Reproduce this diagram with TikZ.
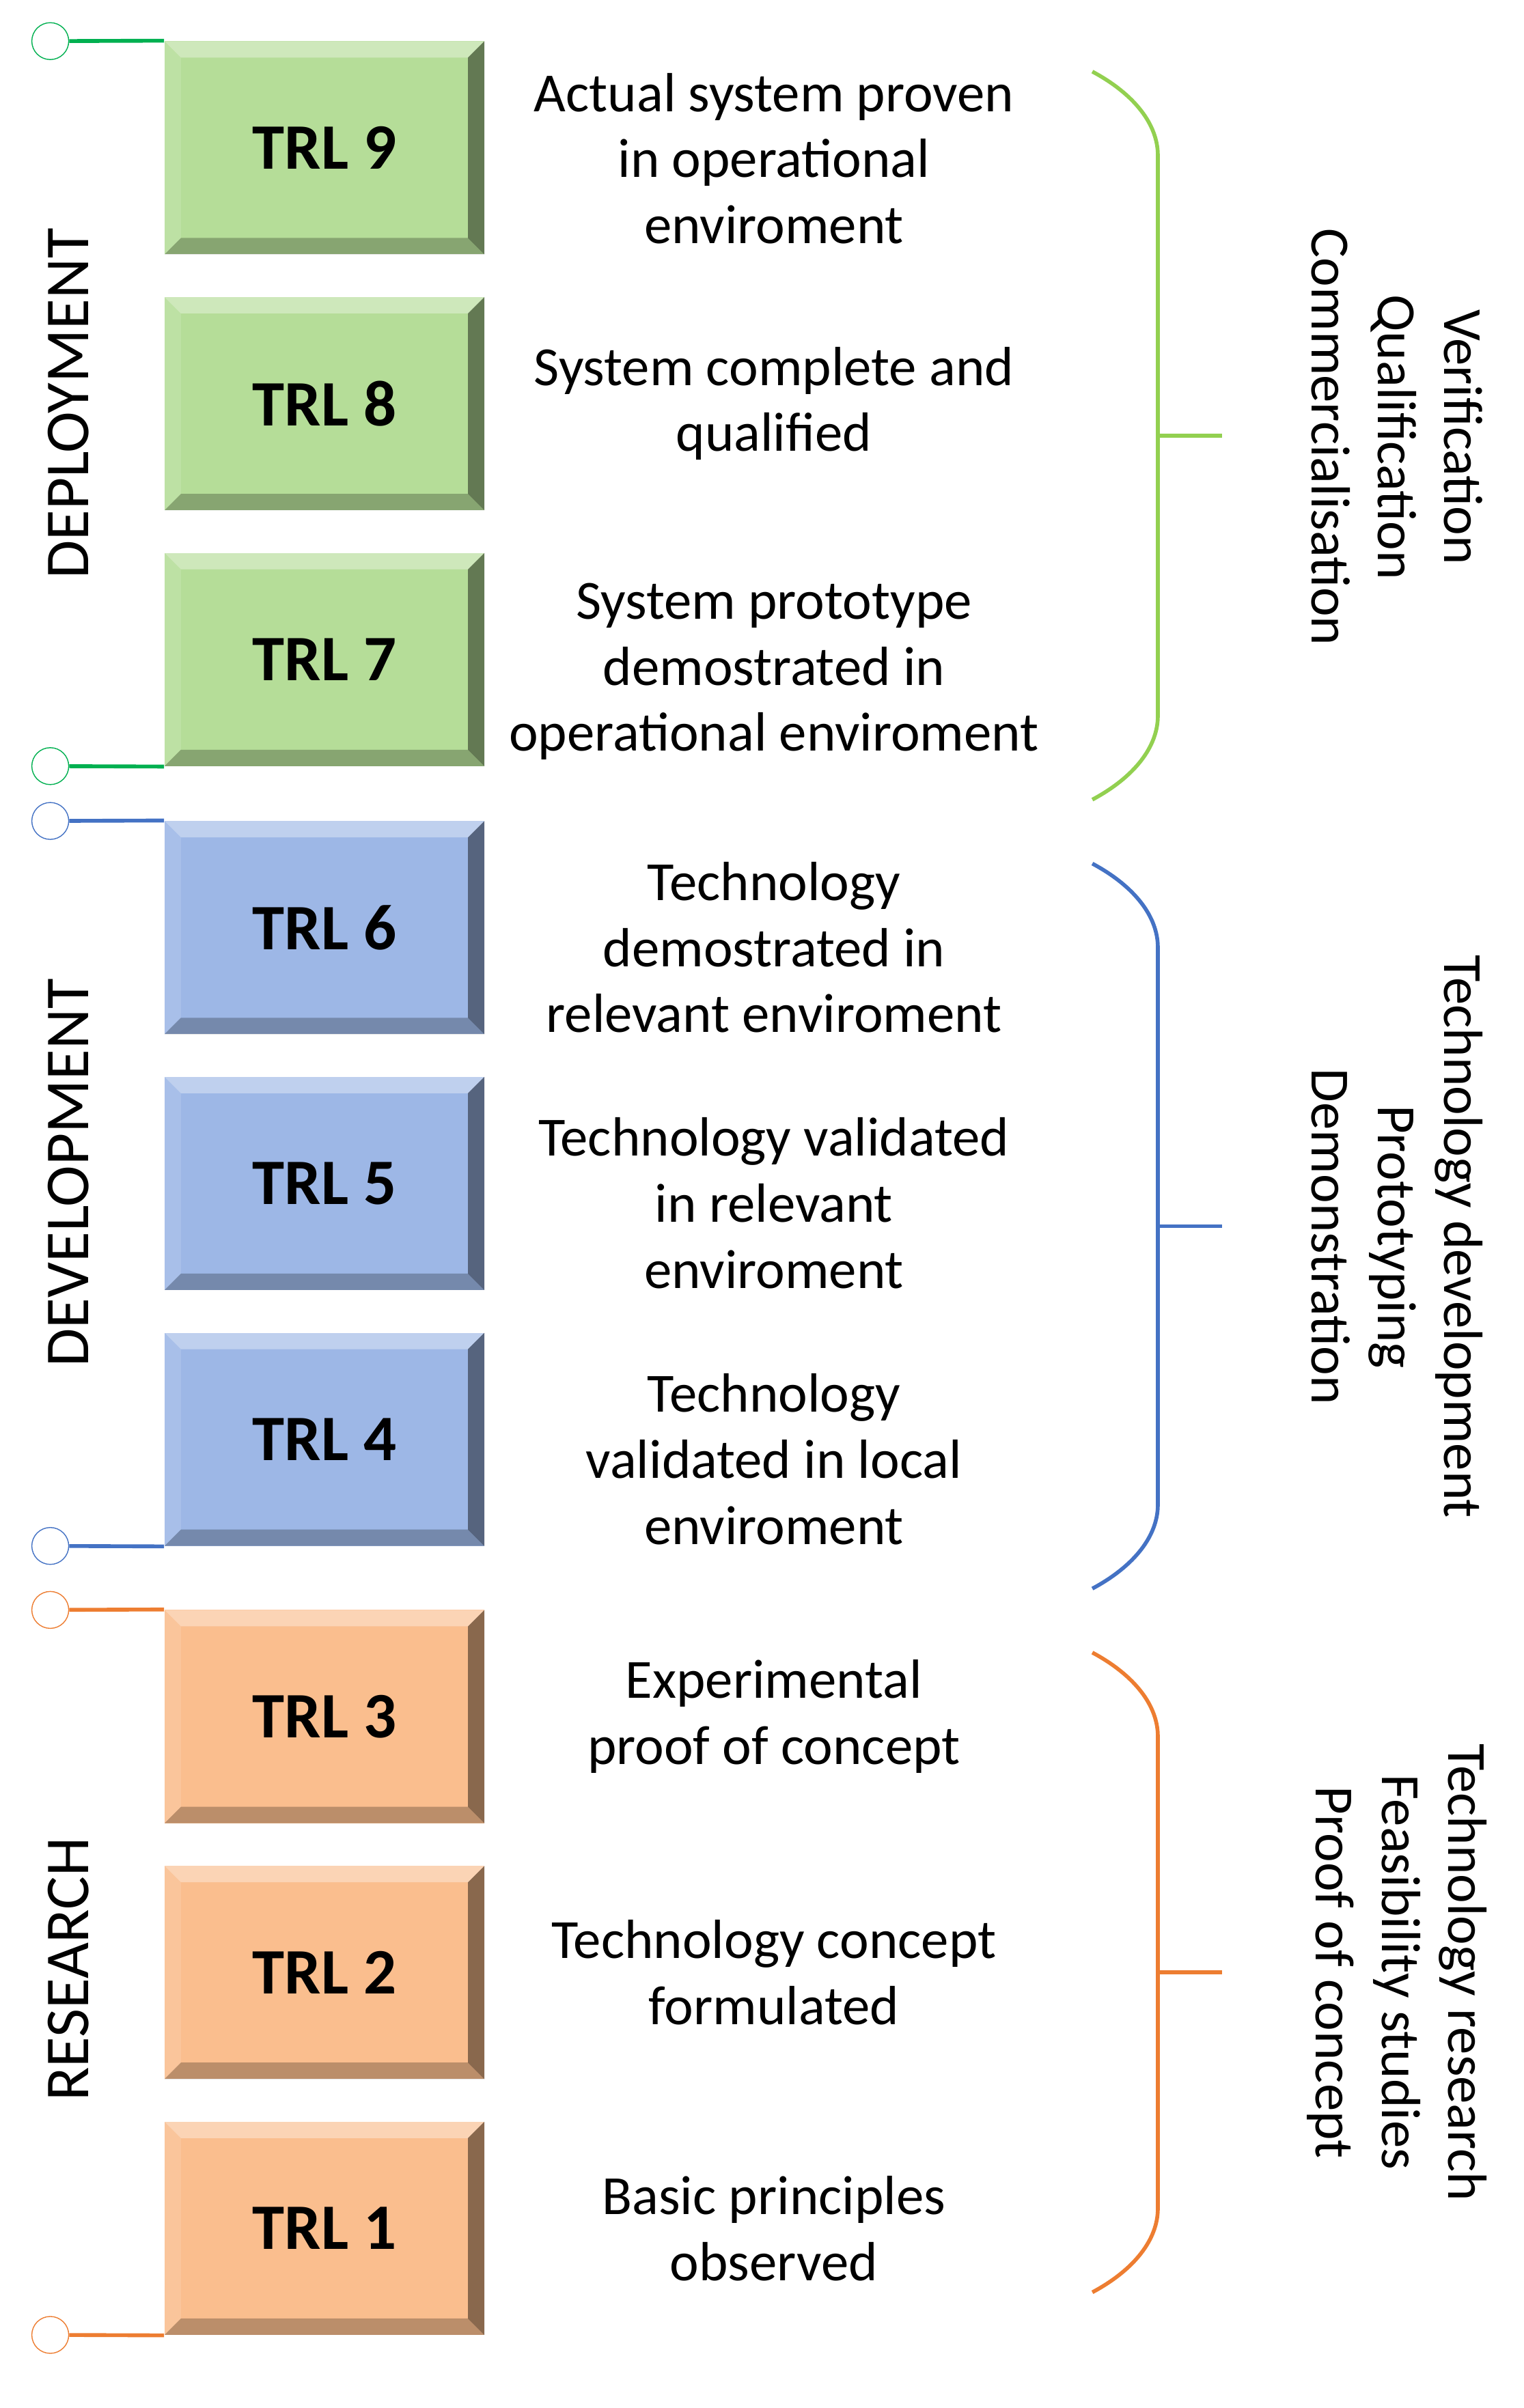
\documentclass[tikz,border=0pt]{standalone}
\usepackage{fontspec}
\setmainfont{Carlito}
\usetikzlibrary{positioning}
\definecolor{grnfill}{RGB}{181,221,152}
\definecolor{bluefill}{RGB}{157,183,230}
\definecolor{orgfill}{RGB}{250,190,142}
\definecolor{grnline}{RGB}{0,176,80}
\definecolor{grnbrace}{RGB}{146,208,80}
\definecolor{blueline}{RGB}{68,114,196}
\definecolor{orgline}{RGB}{237,125,49}
\tikzset{
	trl/.style={rectangle, fill=#1, minimum width=4.68cm, minimum height=3.12cm,
		font=\fontsize{27}{30}\selectfont\bfseries, inner sep=0pt,
		path picture={
			\fill[white,opacity=.35] (path picture bounding box.north west) -- (path picture bounding box.north east)
				-- ([shift={(-0.24cm,-0.24cm)}]path picture bounding box.north east) -- ([shift={(0.24cm,-0.24cm)}]path picture bounding box.north west) -- cycle;
			\fill[white,opacity=.12] (path picture bounding box.north west) -- (path picture bounding box.south west)
				-- ([shift={(0.24cm,0.24cm)}]path picture bounding box.south west) -- ([shift={(0.24cm,-0.24cm)}]path picture bounding box.north west) -- cycle;
			\fill[black,opacity=.25] (path picture bounding box.south west) -- (path picture bounding box.south east)
				-- ([shift={(-0.24cm,0.24cm)}]path picture bounding box.south east) -- ([shift={(0.24cm,0.24cm)}]path picture bounding box.south west) -- cycle;
			\fill[black,opacity=.45] (path picture bounding box.north east) -- (path picture bounding box.south east)
				-- ([shift={(-0.24cm,0.24cm)}]path picture bounding box.south east) -- ([shift={(-0.24cm,-0.24cm)}]path picture bounding box.north east) -- cycle;
		}},
	desc/.style={align=center, font=\fontsize{23}{27.5}\selectfont},
	fase/.style={rotate=90, font=\fontsize{26}{30}\selectfont},
	meta/.style={rotate=-90, align=center, font=\fontsize{23}{27.5}\selectfont},
	punto/.style={circle, draw=#1, fill=white, minimum size=0.54cm, inner sep=0pt},
	enlace/.style={draw=#1, line width=1.6pt},
	llave/.style={draw=#1, line width=1.6pt}
}
\begin{document}
\begin{tikzpicture}[x=0.0223cm, y=-0.0223cm]
	\useasboundingbox (0,0) rectangle (1000,1581);
	
	% bloques TRL
	\node[trl=grnfill] (t9) at (213,97) {TRL 9};
	\node[trl=grnfill] (t8) at (213,265) {TRL 8};
	\node[trl=grnfill] (t7) at (213,433) {TRL 7};
	\node[trl=bluefill] (t6) at (213,609) {TRL 6};
	\node[trl=bluefill] (t5) at (213,777) {TRL 5};
	\node[trl=bluefill] (t4) at (213,945) {TRL 4};
	\node[trl=orgfill] (t3) at (213,1127) {TRL 3};
	\node[trl=orgfill] (t2) at (213,1295) {TRL 2};
	\node[trl=orgfill] (t1) at (213,1463) {TRL 1};
	
	% descripciones
	\node[desc] (d9) at (508,104) {Actual system proven\\in operational\\enviroment};
	\node[desc] (d8) at (508,265) {System complete and\\qualified};
	\node[desc] (d7) at (508,441) {System prototype\\demostrated in\\operational enviroment};
	\node[desc] (d6) at (508,622) {Technology\\demostrated in\\relevant enviroment};
	\node[desc] (d5) at (508,790) {Technology validated\\in relevant\\enviroment};
	\node[desc] (d4) at (508,958) {Technology\\validated in local\\enviroment};
	\node[desc] (d3) at (508,1127) {Experimental\\proof of concept};
	\node[desc] (d2) at (508,1295) {Technology concept\\formulated};
	\node[desc] (d1) at (508,1463) {Basic principles\\observed};
	
	% fases
	\node[fase] (deploy) at (45,265) {DEPLOYMENT};
	\node[fase] (develop) at (45,770) {DEVELOPMENT};
	\node[fase] (research) at (45,1293) {RESEARCH};
	
	% marcadores
	\node[punto=grnline] (p9) at (33,27) {};
	\node[punto=grnline] (p7) at (33,503) {};
	\node[punto=blueline] (p6) at (33,539) {};
	\node[punto=blueline] (p4) at (33,1015) {};
	\node[punto=orgline] (p3) at (33,1057) {};
	\node[punto=orgline] (p1) at (33,1533) {};
	\draw[enlace=grnline] (p9) -- (t9.north west);
	\draw[enlace=grnline] (p7) -- (t7.south west);
	\draw[enlace=blueline] (p6) -- (t6.north west);
	\draw[enlace=blueline] (p4) -- (t4.south west);
	\draw[enlace=orgline] (p3) -- (t3.north west);
	\draw[enlace=orgline] (p1) -- (t1.south west);
	
	% llaves
	\foreach \top/\bot/\col in {47/525/grnbrace, 567/1043/blueline, 1085/1505/orgline}{
		\draw[llave=\col] (717,\top) .. controls (745,{\top+15}) and (760,{\top+35}) .. (760,{\top+55})
			-- (760,{\bot-55}) .. controls (760,{\bot-35}) and (745,{\bot-15}) .. (717,\bot);
		\draw[llave=\col] (760,{(\top+\bot)/2}) -- (802,{(\top+\bot)/2});
	}
	
	% metas
	\node[meta] (m1) at (917,287) {Verification\\Qualification\\Commercialisation};
	\node[meta] (m2) at (917,812) {Technology development\\Prototyping\\Demonstration};
	\node[meta] (m3) at (917,1295) {Technology research\\Feasibility studies\\Proof of concept};
\end{tikzpicture}
\end{document}
